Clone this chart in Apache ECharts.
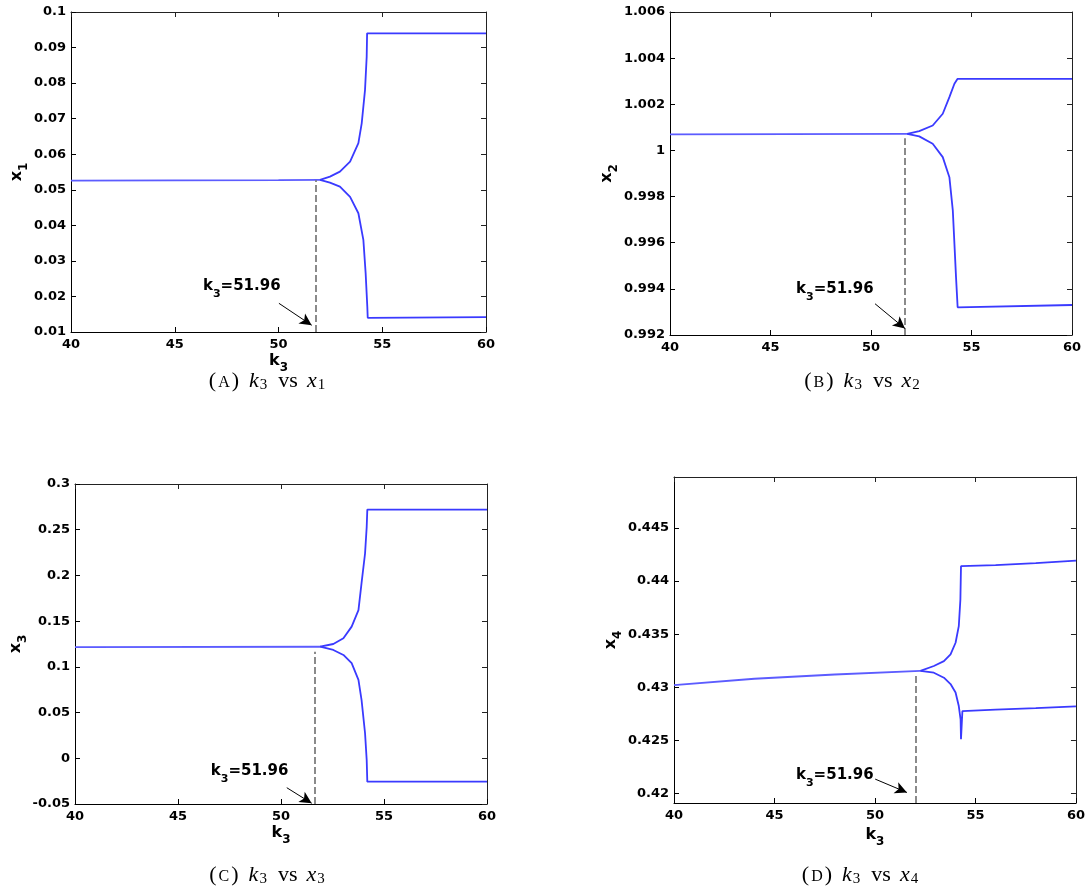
<!DOCTYPE html>
<html>
<head>
<meta charset="utf-8">
<script src="https://cdn.jsdelivr.net/npm/echarts@6/dist/echarts.min.js"></script>
<style>html,body{margin:0;padding:0;background:#fff}#c{width:1088px;height:890px}</style>
</head>
<body>
<div id="c"></div>
<script>
// ---------- data ----------
// Panel A: k3 vs x1
const kA_st = [40, 50, 52.0];
const xA_st = [0.0526, 0.0527, 0.0528];
const kA_up = [52.0, 52.48, 52.96, 53.45, 53.85, 54.01, 54.17, 54.25, 54.27, 60];
const xA_up = [0.0528, 0.0537, 0.0551, 0.0579, 0.0631, 0.0687, 0.0781, 0.0874, 0.094, 0.094];
const kA_lo = [52.0, 52.48, 52.96, 53.45, 53.85, 54.09, 54.2, 54.28, 54.3, 60];
const xA_lo = [0.0528, 0.052, 0.0509, 0.048, 0.0434, 0.0359, 0.0265, 0.0171, 0.014, 0.0142];

// Panel B: k3 vs x2
const kB_st = [40, 51.8];
const xB_st = [1.0007, 1.00072];
const kB_up = [51.8, 52.4, 53.07, 53.57, 53.9, 54.15, 54.3, 60];
const xB_up = [1.00072, 1.00084, 1.00108, 1.00159, 1.00231, 1.00289, 1.0031, 1.0031];
const kB_lo = [51.8, 52.4, 53.07, 53.57, 53.9, 54.07, 54.15, 54.23, 54.31, 60];
const xB_lo = [1.00072, 1.00061, 1.00029, 0.99971, 0.99884, 0.9974, 0.99596, 0.99451, 0.9932, 0.9933];

// Panel C: k3 vs x3
const kC_st = [40, 51.9];
const xC_st = [0.1215, 0.122];
const kC_up = [51.9, 52.54, 53.03, 53.43, 53.76, 53.91, 54.08, 54.16, 54.19, 60];
const xC_up = [0.122, 0.125, 0.1313, 0.144, 0.162, 0.1915, 0.224, 0.253, 0.272, 0.272];
const kC_lo = [51.9, 52.54, 53.03, 53.43, 53.76, 53.91, 54.08, 54.16, 54.19, 60];
const xC_lo = [0.122, 0.1185, 0.113, 0.104, 0.0857, 0.0638, 0.0274, -0.0019, -0.0256, -0.0255];

// Panel D: k3 vs x4
const kD_st = [40, 44, 48, 52.26];
const xD_st = [0.4302, 0.4308, 0.4312, 0.43155];
const kD_up = [52.26, 52.93, 53.43, 53.76, 54.01, 54.17, 54.25, 54.28, 54.3, 56, 58, 60];
const xD_up = [0.43155, 0.4320, 0.43246, 0.43309, 0.43419, 0.43575, 0.43826, 0.4414, 0.44145, 0.4415, 0.44168, 0.44192];
const kD_lo = [52.26, 52.93, 53.43, 53.76, 54.01, 54.17, 54.26, 54.28, 54.35, 56, 58, 60];
const xD_lo = [0.43155, 0.43137, 0.4309, 0.4303, 0.4295, 0.42823, 0.42698, 0.4251, 0.42776, 0.4279, 0.42803, 0.4282];

// tick labels
const xTicks = [40, 45, 50, 55, 60];
const yTicksD = [0.42, 0.425, 0.43, 0.435, 0.44, 0.445];

// annotation: critical value text, dashed line and arrow (in data coords)
const critLabel = '51.96';
const dashK = [51.79, 51.69, 51.65, 52.05];
const dashTop = [0.0527, 1.00053, 0.1166, 0.4312];
const textPos = [[46.36, 0.02294], [46.27, 0.994005], [46.59, -0.01357], [46.07, 0.42172]];
const arrowFrom = [[50.02, 0.01807], [50.2, 0.993355], [50.28, -0.03217], [50.01, 0.42135]];
const arrowTo = [[51.6, 0.0119], [51.69, 0.99228], [51.49, -0.0492], [51.59, 0.42009]];

// ---------- layout ----------
const grids = [
  {left: 71, top: 12, width: 415, height: 320},
  {left: 670, top: 12, width: 402, height: 323},
  {left: 75, top: 484, width: 412, height: 320},
  {left: 674, top: 477, width: 402, height: 326}
];
const yRanges = [[0.01, 0.1, 0.01], [0.992, 1.006, 0.002], [-0.05, 0.3, 0.05], [0.4191, 0.4498, null]];
const yNames = ['1', '2', '3', '4'];
const yNameGaps = [41, 47, 45, 48];
const xNameGaps = [16, null, 16, 19];
const capLetters = ['A', 'B', 'C', 'D'];
const capPos = [[267, 381], [862, 381], [267, 875], [860, 875]];

const FF = 'DejaVu Sans';
const richMain = (fs, ss, pad) => ({
  n: {fontFamily: FF, fontWeight: 'bold', fontSize: fs, color: '#000'},
  s: {fontFamily: FF, fontWeight: 'bold', fontSize: ss, color: '#000', padding: [pad, 0, 0, 0]}
});

const zip = (a, b) => a.map((v, i) => [v, b[i]]);
const panels = [
  [kA_st, xA_st, kA_up, xA_up, kA_lo, xA_lo],
  [kB_st, xB_st, kB_up, xB_up, kB_lo, xB_lo],
  [kC_st, xC_st, kC_up, xC_up, kC_lo, xC_lo],
  [kD_st, xD_st, kD_up, xD_up, kD_lo, xD_lo]
];

const xAxis = [], yAxis = [], series = [], graphic = [];
const blue = '#3a3aff';
for (let i = 0; i < 4; i++) {
  const [ymin, ymax, yint] = yRanges[i];
  // bottom x
  xAxis.push({
    type: 'value', gridIndex: i, min: 40, max: 60, interval: 5,
    name: xNameGaps[i] == null ? '' : '{n|k}{s|3}',
    nameLocation: 'middle', nameGap: xNameGaps[i] || 0,
    nameTextStyle: {rich: richMain(16, 12, 14)},
    axisLine: {show: true, onZero: false, lineStyle: {color: '#000', width: 1}},
    axisTick: {show: true, inside: true, length: 5, lineStyle: {color: '#000'}},
    axisLabel: {show: true, margin: 6, fontFamily: FF, fontWeight: 'bold', fontSize: 13, color: '#000',
      customValues: xTicks},
    splitLine: {show: false}
  });
  // left y
  const yl = {
    type: 'value', gridIndex: i, min: ymin, max: ymax,
    name: '{n|x}{s|' + yNames[i] + '}', nameLocation: 'middle', nameGap: yNameGaps[i],
    nameTextStyle: {rich: richMain(16, 12, 14)},
    axisLine: {show: true, onZero: false, lineStyle: {color: '#000', width: 1}},
    axisTick: {show: true, inside: true, length: 5, lineStyle: {color: '#000'}},
    axisLabel: {show: true, margin: 5, fontFamily: FF, fontWeight: 'bold', fontSize: 13, color: '#000'},
    splitLine: {show: false}
  };
  if (yint) yl.interval = yint;
  else { yl.axisLabel.customValues = yTicksD; yl.axisTick.customValues = yTicksD; }
  yAxis.push(yl);

  // series
  const [ks, xs, ku, xu, kl, xl] = panels[i];
  const lineBase = {type: 'line', xAxisIndex: i, yAxisIndex: i, showSymbol: false, symbol: 'none',
    lineStyle: {color: blue, width: 1.8}, silent: true, z: 3};
  series.push(Object.assign({}, lineBase, {
    data: zip(ks, xs),
    lineStyle: {color: '#5c5cff', width: 1.8},
    markLine: {
      silent: true, animation: false, label: {show: false},
      data: [
        [{coord: [dashK[i], yRanges[i][0]], symbol: 'none', lineStyle: {color: '#6e6e6e', width: 1.6, type: [7, 3]}},
         {coord: [dashK[i], dashTop[i]], symbol: 'none'}],
        [{coord: arrowFrom[i], symbol: 'none', lineStyle: {color: '#000', width: 1, type: 'solid'}},
         {coord: arrowTo[i], symbol: 'arrow', symbolSize: [9, 12]}]
      ]
    }
  }));
  series.push(Object.assign({}, lineBase, {data: zip(ku, xu)}));
  series.push(Object.assign({}, lineBase, {data: zip(kl, xl)}));
  series.push({
    type: 'scatter', xAxisIndex: i, yAxisIndex: i, silent: true, symbolSize: 0,
    itemStyle: {color: '#000', opacity: 1},
    data: [textPos[i]],
    label: {show: true, position: 'right', distance: 0, color: '#000', fontWeight: 'bold', opacity: 1,
      formatter: '{n|k}{s|3}{n|=' + critLabel + '}', rich: richMain(15, 11, 16)},
    emphasis: {disabled: true},
    z: 5
  });

  // caption
  const serif = 'Liberation Serif';
  graphic.push({
    type: 'text', x: capPos[i][0], y: capPos[i][1], silent: true,
    style: {
      align: 'center', verticalAlign: 'middle',
      text: '{p|(}{c|' + capLetters[i] + '}{p|)}{i|k}{b|3}{r|vs}{i2|x}{b|' + yNames[i] + '}',
      rich: {
        p: {fontFamily: serif, fontSize: 22, color: '#000'},
        c: {fontFamily: serif, fontSize: 16, color: '#000', padding: [3, 2, 0, 2]},
        r: {fontFamily: serif, fontSize: 22, color: '#000', padding: [0, 0, 0, 11]},
        i: {fontFamily: serif, fontStyle: 'italic', fontSize: 22, color: '#000', padding: [0, 0, 0, 10]},
        i2: {fontFamily: serif, fontStyle: 'italic', fontSize: 22, color: '#000', padding: [0, 0, 0, 9]},
        b: {fontFamily: serif, fontSize: 15, color: '#000', padding: [9, 0, 0, 1]}
      }
    }
  });
}
// box: top x and right y axes
for (let i = 0; i < 4; i++) {
  const [ymin, ymax, yint] = yRanges[i];
  xAxis.push({
    type: 'value', gridIndex: i, position: 'top', min: 40, max: 60, interval: 5,
    axisLine: {show: true, onZero: false, lineStyle: {color: '#222', width: 1}},
    axisTick: {show: true, inside: true, length: 5, lineStyle: {color: '#222'}},
    axisLabel: {show: false}, splitLine: {show: false}
  });
  const yr = {
    type: 'value', gridIndex: i, position: 'right', min: ymin, max: ymax,
    axisLine: {show: true, onZero: false, lineStyle: {color: '#222', width: 1}},
    axisTick: {show: true, inside: true, length: 5, lineStyle: {color: '#222'}},
    axisLabel: {show: false}, splitLine: {show: false}
  };
  if (yint) yr.interval = yint; else yr.axisTick.customValues = yTicksD;
  yAxis.push(yr);
}

const chart = echarts.init(document.getElementById('c'), null, {renderer: 'canvas'});
chart.setOption({
  animation: false,
  backgroundColor: '#fff',
  grid: grids,
  xAxis: xAxis,
  yAxis: yAxis,
  series: series,
  graphic: graphic
});
</script>
</body>
</html>
